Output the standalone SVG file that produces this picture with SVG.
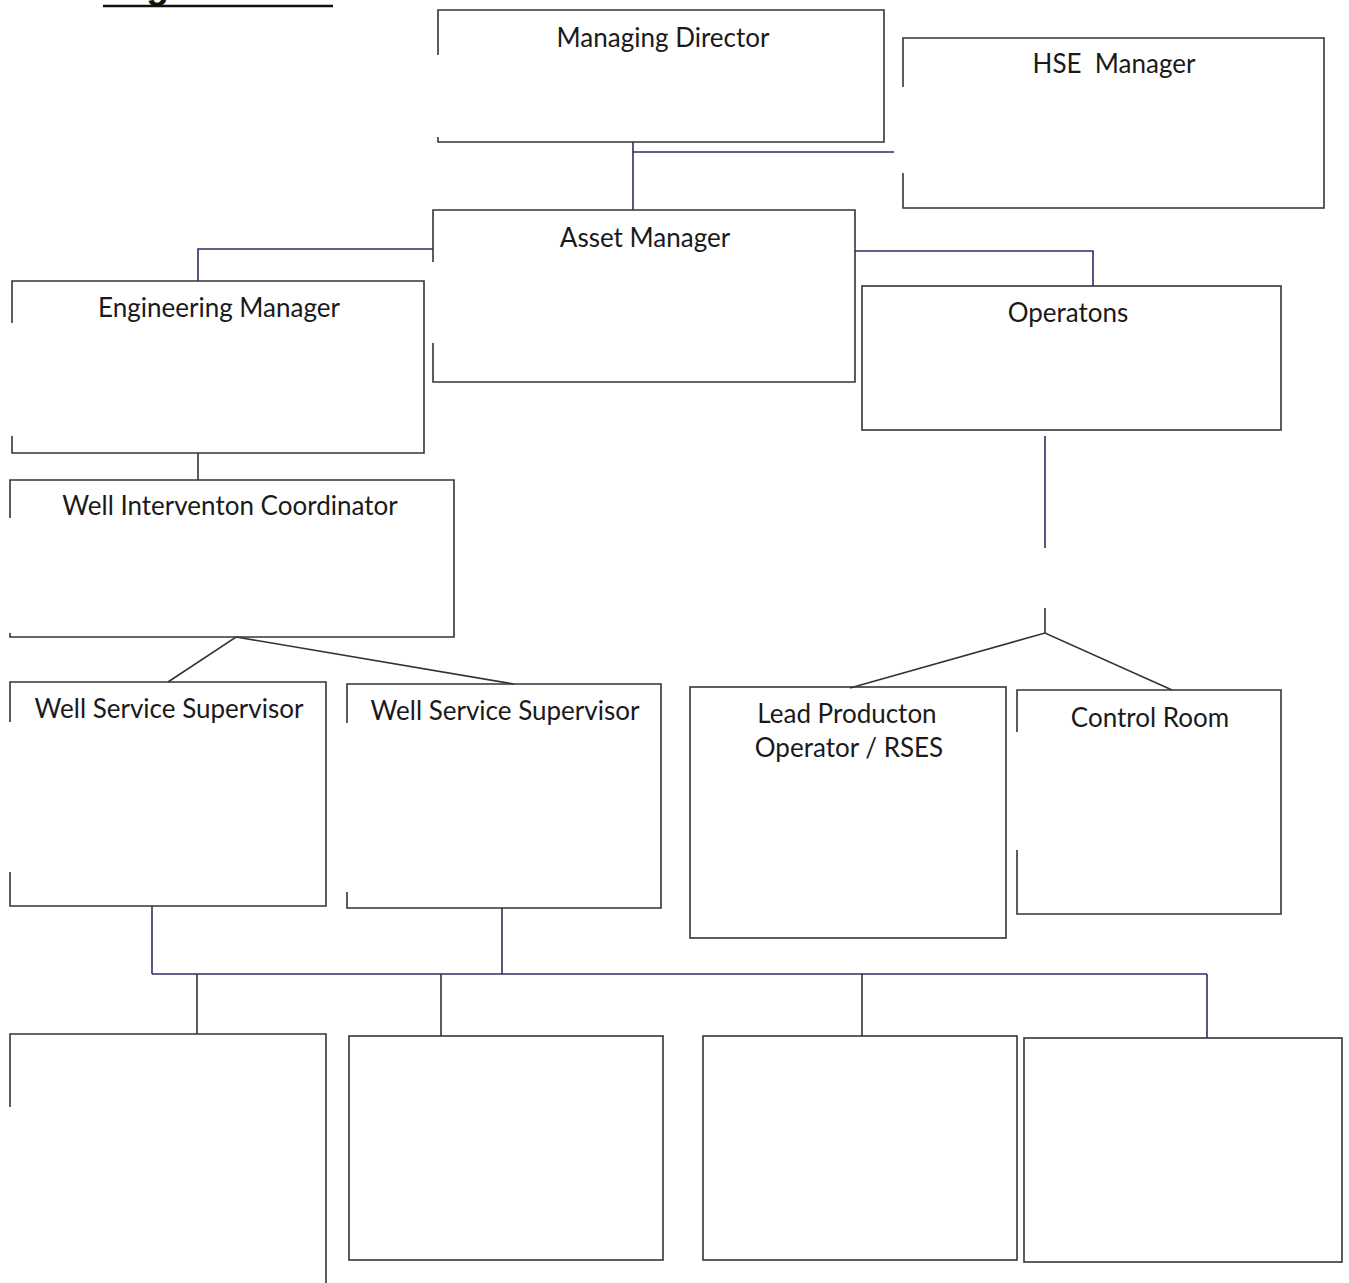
<svg xmlns="http://www.w3.org/2000/svg" width="1349" height="1283" viewBox="0 0 1349 1283">
<style>
.box{fill:none;stroke:#353535;stroke-width:1.6}
.con{fill:none;stroke:#2c2e66;stroke-width:1.6}
.con2{fill:none;stroke:#333;stroke-width:1.6}
.lbl{font-family:Lato,"Open Sans","Liberation Sans",sans-serif;font-size:26px;fill:#1a1a1a;text-anchor:middle}
.title{font-family:"Liberation Sans",Arial,sans-serif;font-size:37px;font-weight:bold;fill:#111}
</style>
<rect width="1349" height="1283" fill="#ffffff"/>
<g id="title">
<text class="title" x="103" y="-2">Organisation</text>
<line x1="103" y1="6" x2="333" y2="6" stroke="#111" stroke-width="2.4"/>
</g>
<g id="connectors">
<path class="con" d="M633,142 V210"/>
<path class="con" d="M633,152 H894"/>
<path class="con" d="M433,249 H198 V281"/>
<path class="con" d="M855,251 H1093 V286"/>
<path class="con2" d="M198,453 V480"/>
<path class="con2" d="M168,682 L236,637 L514,684"/>
<path class="con" d="M1045,436 V548"/>
<path class="con2" d="M1045,608 V633"/>
<path class="con2" d="M850,688 L1045,633 L1172,690"/>
<path class="con" d="M152,906 V974"/>
<path class="con" d="M502,908 V974"/>
<path class="con" d="M152,974 H1207"/>
<path class="con2" d="M197,974 V1034"/>
<path class="con2" d="M441,974 V1036"/>
<path class="con2" d="M862,974 V1036"/>
<path class="con" d="M1207,974 V1038"/>
</g>
<g id="managing-director">
<path class="box" d="M438,55 V10 H884 V142 H438 V137"/>
<text class="lbl" x="663" y="47">Managing Director</text>
</g>
<g id="hse-manager">
<path class="box" d="M903,87 V38 H1324 V208 H903 V173"/>
<text class="lbl" x="1114" y="73" xml:space="preserve">HSE  Manager</text>
</g>
<g id="asset-manager">
<path class="box" d="M433,262 V210 H855 V382 H433 V343"/>
<text class="lbl" x="645" y="247">Asset Manager</text>
</g>
<g id="engineering-manager">
<path class="box" d="M12,323 V281 H424 V453 H12 V436"/>
<text class="lbl" x="219" y="317">Engineering Manager</text>
</g>
<g id="operations">
<rect class="box" x="862" y="286" width="419" height="144"/>
<text class="lbl" x="1068" y="322">Operatons</text>
</g>
<g id="well-intervention-coordinator">
<path class="box" d="M10,518 V480 H454 V637 H10 V633"/>
<text class="lbl" x="230" y="515">Well Interventon Coordinator</text>
</g>
<g id="well-service-supervisor-1">
<path class="box" d="M10,722 V682 H326 V906 H10 V872"/>
<text class="lbl" x="169" y="718">Well Service Supervisor</text>
</g>
<g id="well-service-supervisor-2">
<path class="box" d="M347,723 V684 H661 V908 H347 V892"/>
<text class="lbl" x="505" y="720">Well Service Supervisor</text>
</g>
<g id="lead-production-operator">
<rect class="box" x="690" y="687" width="316" height="251"/>
<text class="lbl" x="847" y="723">Lead Producton</text>
<text class="lbl" x="849" y="757">Operator / RSES</text>
</g>
<g id="control-room">
<path class="box" d="M1017,732 V690 H1281 V914 H1017 V850"/>
<text class="lbl" x="1150" y="727">Control Room</text>
</g>
<g id="box-b1">
<path class="box" d="M10,1107 V1034 H326 V1283"/>
</g>
<g id="box-b2">
<rect class="box" x="349" y="1036" width="314" height="224"/>
</g>
<g id="box-b3">
<rect class="box" x="703" y="1036" width="314" height="224"/>
</g>
<g id="box-b4">
<rect class="box" x="1024" y="1038" width="318" height="224"/>
</g>
</svg>
